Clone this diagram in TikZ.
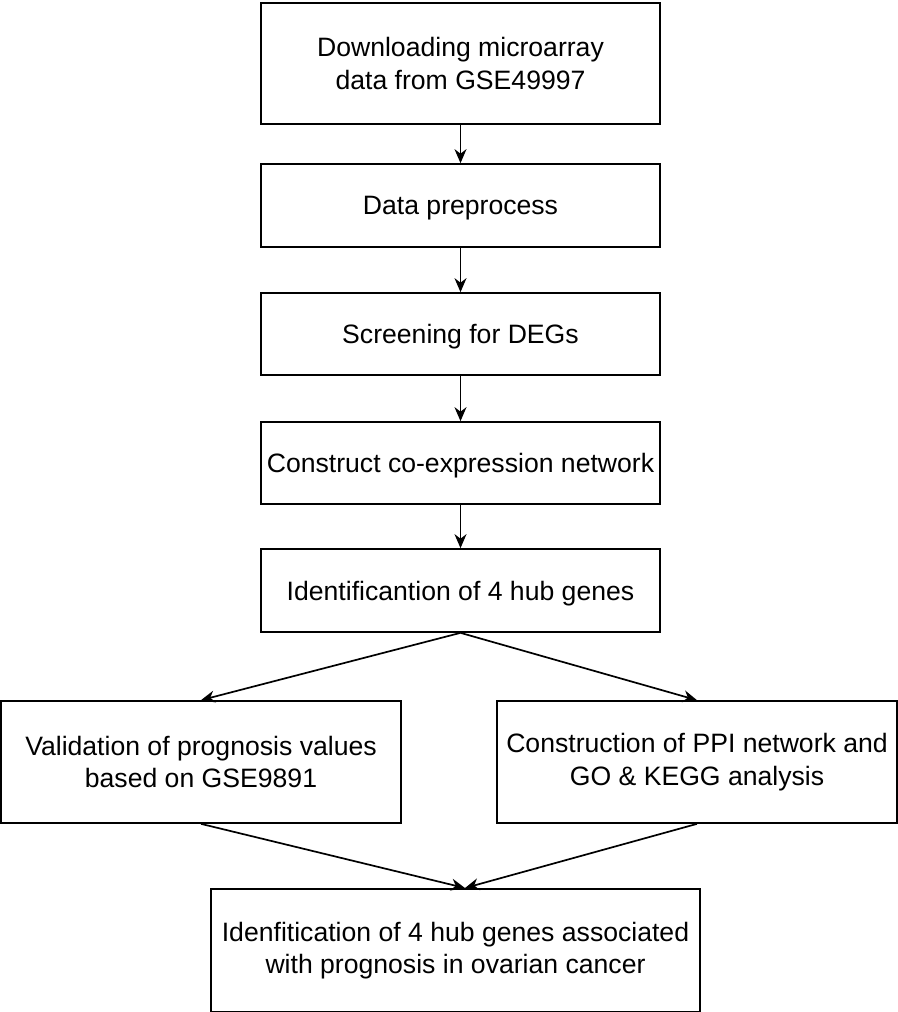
\documentclass[tikz,border=0pt]{standalone}
\usepackage{fontspec}
\setmainfont{Liberation Sans}
\usetikzlibrary{arrows.meta}

\begin{document}
\begin{tikzpicture}[x=0.5pt,y=-0.5pt]
    \tikzset{
        stage/.style={draw,line width=0.85pt,align=center,inner sep=0pt,
            font=\fontsize{13.3}{16.2}\selectfont},
        oneline/.style={stage,text depth=0pt},
        flow/.style={-{Stealth[length=7pt,width=6pt]},line width=0.85pt}
    };
    \useasboundingbox (0,0) rectangle (898,1012);
    \node[stage,minimum width=199.5pt,minimum height=60.5pt] (download) at (460.5,63.5) {Downloading microarray\\data from GSE49997};
    \node[oneline,minimum width=199.5pt,minimum height=41.5pt] (prep) at (460.5,205.5) {Data preprocess};
    \node[oneline,minimum width=199.5pt,minimum height=41pt] (degs) at (460.5,334) {Screening for DEGs};
    \node[oneline,minimum width=199.5pt,minimum height=41pt] (coexp) at (460.5,463) {Construct co-expression network};
    \node[oneline,minimum width=199.5pt,minimum height=41.5pt] (hub) at (460.5,590.5) {Identificantion of 4 hub genes};
    \node[stage,minimum width=200pt,minimum height=61pt] (valid) at (201,762) {Validation of prognosis values\\based on GSE9891};
    \node[stage,minimum width=200pt,minimum height=61pt] (ppi) at (697,762) {Construction of PPI network and\\GO \& KEGG analysis};
    \node[stage,minimum width=244.5pt,minimum height=61.5pt] (final) at (455.5,950.5) {Idenfitication of 4 hub genes associated\\with prognosis in ovarian cancer};
    \coordinate (meet) at (465,888);
    \draw[flow] (download) -- (prep);
    \draw[flow] (prep) -- (degs);
    \draw[flow] (degs) -- (coexp);
    \draw[flow] (coexp) -- (hub);
    \draw[flow] (hub.south) -- (valid.north);
    \draw[flow] (hub.south) -- (ppi.north);
    \draw[flow] (valid.south) -- (meet);
    \draw[flow] (ppi.south) -- (meet);
\end{tikzpicture}
\end{document}
